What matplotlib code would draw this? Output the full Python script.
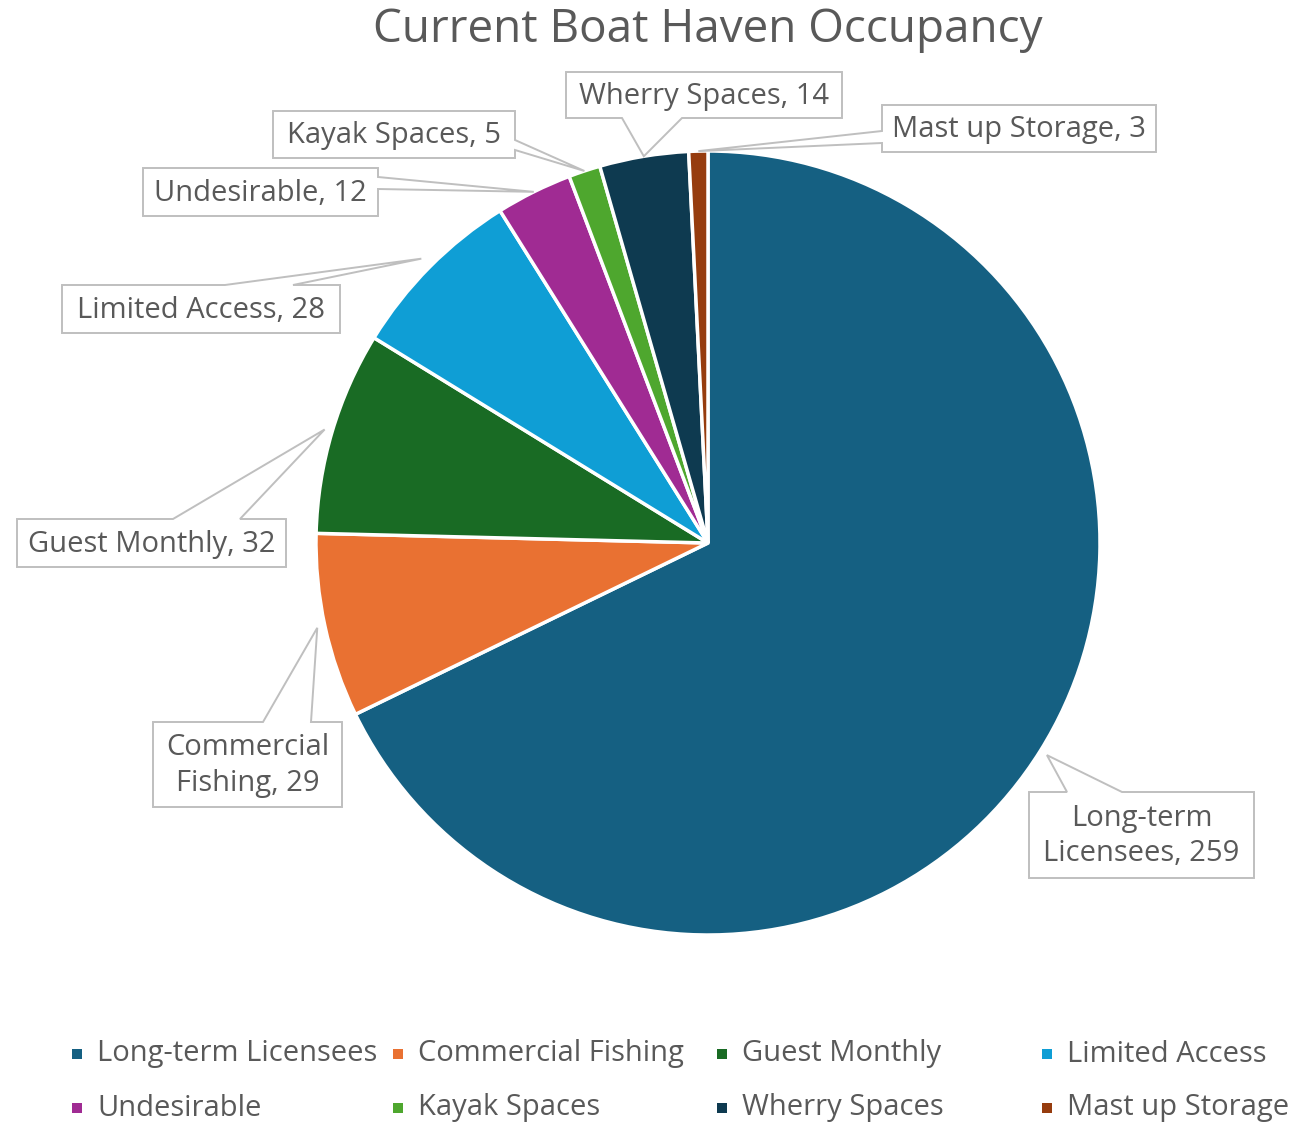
import numpy as np
import matplotlib
matplotlib.use("Agg")
import matplotlib.pyplot as plt
from matplotlib.patches import Polygon, Rectangle

plt.rcParams['font.family'] = ['Open Sans', 'DejaVu Sans']

categories = ["Long-term Licensees", "Commercial Fishing", "Guest Monthly", "Limited Access",
              "Undesirable", "Kayak Spaces", "Wherry Spaces", "Mast up Storage"]
values = [259, 29, 32, 28, 12, 5, 14, 3]
label_texts = ["Long-term\nLicensees, 259", "Commercial\nFishing, 29", "Guest Monthly, 32",
               "Limited Access, 28", "Undesirable, 12", "Kayak Spaces, 5",
               "Wherry Spaces, 14", "Mast up Storage, 3"]
colors = ["#156082", "#E97132", "#196B24", "#0F9ED5", "#A02B93", "#4EA72E", "#0E3A50", "#963C0E"]

W, H = 1304, 1122
TXT = "#595959"
GRID = "#BFBFBF"

# callout layout in pixels: box (x0, y0, x1, y1), edge carrying the pointer, pointer base points, tip radius
callouts = [
    ((1029, 792, 1254, 878), "top", (1067, 1122), 1.02),
    ((153, 722, 342, 807), "top", (263, 311), 1.02),
    ((17, 519, 286, 567), "top", (173, 240), 1.02),
    ((62, 285, 340, 333), "top", (225, 293), 1.03),
    ((143, 168, 378, 216), "right", (177, 189), 1.0),
    ((273, 111, 515, 158), "right", (140, 150), 1.0),
    ((566, 72, 842, 118), "bottom", (622, 682), 1.0),
    ((882, 105, 1156, 152), "left", (131, 143), 1.0),
]

fig = plt.figure(figsize=(W / 100, H / 100), dpi=100)
cx, cy, r = 708, 543, 392
ax = fig.add_axes([(cx - r) / W, (H - cy - r) / H, 2 * r / W, 2 * r / H])
wedges, _ = ax.pie(values, colors=colors, startangle=90, counterclock=False, radius=1,
                   wedgeprops=dict(edgecolor="white", linewidth=2.5))
ax.set_xlim(-1, 1)
ax.set_ylim(-1, 1)
ax.set_aspect("equal")
ax.axis("off")

ov = fig.add_axes([0, 0, 1, 1], zorder=5)
ov.set_xlim(0, W)
ov.set_ylim(H, 0)
ov.axis("off")
ov.patch.set_alpha(0)

ov.text(cx, 30, "Current Boat Haven Occupancy", ha="center", va="center",
        fontsize=33, color=TXT)

for w, txt, (box, edge, base, k) in zip(wedges, label_texts, callouts):
    mid = np.deg2rad((w.theta1 + w.theta2) / 2)
    tx = cx + r * k * np.cos(mid)
    ty = cy - r * k * np.sin(mid)
    x0, y0, x1, y1 = box
    b1, b2 = sorted(base)
    if edge == "top":
        pts = [(x0, y0), (b1, y0), (tx, ty), (b2, y0), (x1, y0), (x1, y1), (x0, y1)]
    elif edge == "right":
        pts = [(x0, y0), (x1, y0), (x1, b1), (tx, ty), (x1, b2), (x1, y1), (x0, y1)]
    elif edge == "bottom":
        pts = [(x0, y0), (x1, y0), (x1, y1), (b2, y1), (tx, ty), (b1, y1), (x0, y1)]
    else:
        pts = [(x0, y0), (x1, y0), (x1, y1), (x0, y1), (x0, b2), (tx, ty), (x0, b1)]
    ov.add_patch(Polygon(pts, closed=True, facecolor="white", edgecolor=GRID, linewidth=1.4))
    ov.text((x0 + x1) / 2, (y0 + y1) / 2 + 1, txt, ha="center", va="center",
            fontsize=21, color=TXT, linespacing=1.3, multialignment="center")

# legend drawn by hand: 4 equal columns, filled row by row
col_x = [77, 398, 722, 1047]
row_y = [1054, 1108]
for i, (name, c) in enumerate(zip(categories, colors)):
    x = col_x[i % 4]
    y = row_y[i // 4]
    ov.add_patch(Rectangle((x - 5, y - 5), 10, 10, facecolor=c, edgecolor="none"))
    ov.text(x + 20, y, name, ha="left", va="center", fontsize=21, color=TXT)

fig.savefig("out.png", dpi=100, facecolor="white")
